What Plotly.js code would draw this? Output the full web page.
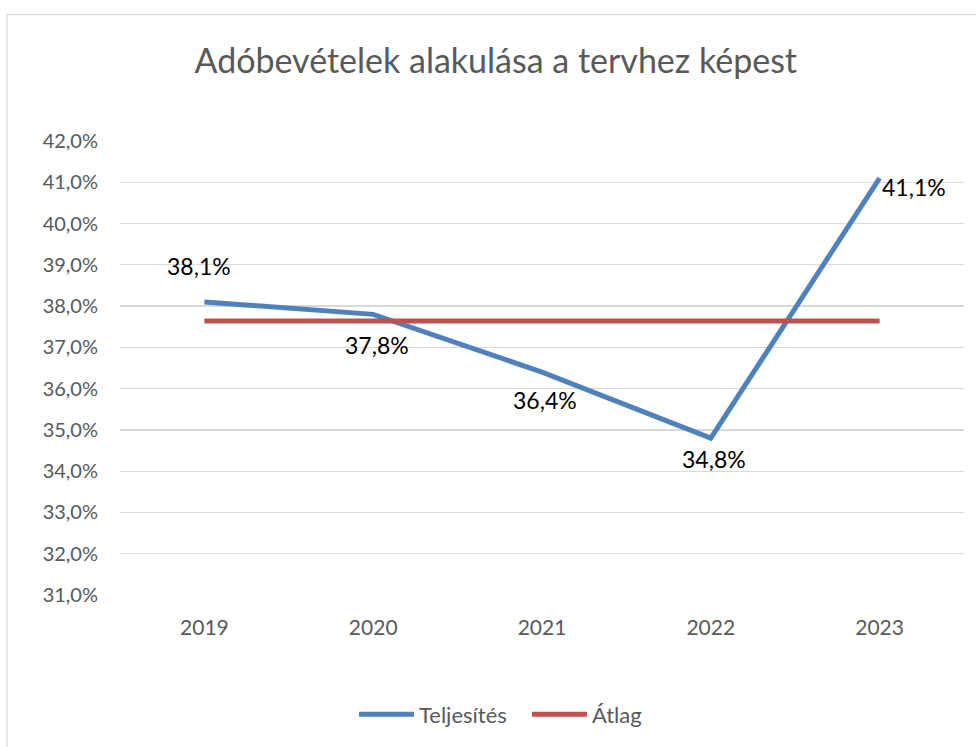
<!DOCTYPE html>
<html><head><meta charset="utf-8">
<script src="https://cdn.plot.ly/plotly-3.0.1.min.js"></script>
<style>body{margin:0;padding:0;background:#fff}#chart{width:976px;height:747px}</style>
</head><body><div id="chart"></div>
<script>
const years = ['2019','2020','2021','2022','2023'];
const teljesites = [38.1, 37.8, 36.4, 34.8, 41.1];
const atlag = [37.64, 37.64, 37.64, 37.64, 37.64];
// label offsets (px) relative to each point: [xshift, yshift]
const labelShift = [[-5, 36], [4, -31], [3, -28], [3, -21], [34, -9]];
const FONT = 'Lato, "Open Sans", sans-serif';

const fmt = v => v.toFixed(1).replace('.', ',') + '%';

const traces = [
  {x: years, y: teljesites, name: 'Teljesítés', type: 'scatter', mode: 'lines',
   line: {color: '#4F81BD', width: 5}, hoverinfo: 'none'},
  {x: years, y: atlag, name: 'Átlag', type: 'scatter', mode: 'lines',
   line: {color: '#C0504D', width: 5}, hoverinfo: 'none'}
];

const annotations = years.map((yr, i) => ({
  x: i, y: teljesites[i], xref: 'x', yref: 'y', text: fmt(teljesites[i]),
  showarrow: false, xanchor: 'center', yanchor: 'middle',
  xshift: labelShift[i][0], yshift: labelShift[i][1],
  font: {family: FONT, size: 23, color: '#000000'}
}));

const layout = {
  width: 976, height: 747,
  margin: {l: 120, r: 12, t: 141, b: 150},
  paper_bgcolor: '#ffffff', plot_bgcolor: '#ffffff',
  separators: ',.',
  font: {family: FONT, color: '#595959'},
  title: {text: 'Adóbevételek alakulása a tervhez képest', x: 0.508, xanchor: 'center',
          y: 1 - 61/747, yanchor: 'middle', yref: 'container',
          font: {family: FONT, size: 34, color: '#595959'}},
  xaxis: {type: 'category', range: [-0.5, 4.5], showgrid: false, zeroline: false, showline: false,
          ticks: 'outside', ticklen: 14, tickcolor: 'rgba(0,0,0,0)',
          tickfont: {family: FONT, size: 21, color: '#595959'}},
  yaxis: {range: [31, 42], dtick: 1, tickformat: '.1f', ticksuffix: '%',
          showgrid: true, gridcolor: '#d9d9d9', gridwidth: 1.3, zeroline: false, showline: false,
          ticks: 'outside', ticklen: 17, tickcolor: 'rgba(0,0,0,0)',
          tickfont: {family: FONT, size: 20, color: '#595959'}},
  showlegend: true,
  legend: {orientation: 'h', x: (527 - 120) / 844, xanchor: 'center', y: -0.263, yanchor: 'middle',
           itemwidth: 55, entrywidth: 103, entrywidthmode: 'pixels',
           font: {family: FONT, size: 22, color: '#595959'}},
  annotations: annotations,
  shapes: [{type: 'rect', xref: 'paper', yref: 'paper',
            x0: -113/844, x1: 1.2, y0: -0.4, y1: (597-14)/456,
            line: {color: '#d9d9d9', width: 1.3}, fillcolor: 'rgba(0,0,0,0)', layer: 'below'}]
};

Plotly.newPlot('chart', traces, layout, {staticPlot: true, displayModeBar: false});
</script></body></html>
